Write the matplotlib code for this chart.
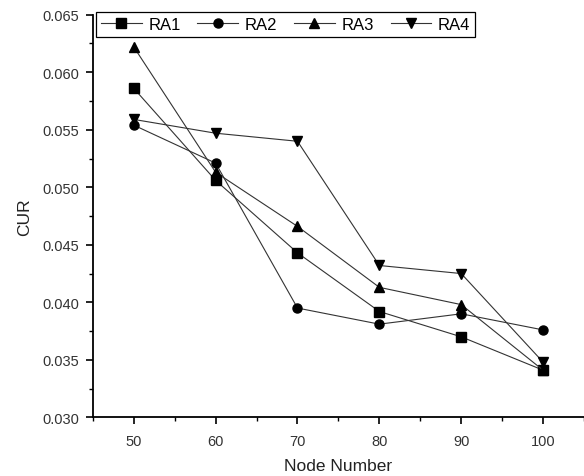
import matplotlib
matplotlib.use('Agg')
import matplotlib.pyplot as plt
from matplotlib.ticker import MultipleLocator, FormatStrFormatter

# data
node_number = [50, 60, 70, 80, 90, 100]
ra1 = [0.0586, 0.0506, 0.0443, 0.0392, 0.0370, 0.0341]
ra2 = [0.0554, 0.0521, 0.0395, 0.0381, 0.0390, 0.0376]
ra3 = [0.0622, 0.0513, 0.0466, 0.0413, 0.0398, 0.0341]
ra4 = [0.0559, 0.0547, 0.0540, 0.0432, 0.0425, 0.0348]
labels = ['RA1', 'RA2', 'RA3', 'RA4']
markers = ['s', 'o', '^', 'v']

plt.rcParams['font.family'] = ['Liberation Sans', 'DejaVu Sans']

fig = plt.figure(figsize=(5.84, 4.77), dpi=100)
ax = fig.add_axes([0.159, 0.123, 0.841, 0.844])

for series, lab, mk in zip([ra1, ra2, ra3, ra4], labels, markers):
    ax.plot(node_number, series, color='#333333', linewidth=0.8,
            marker=mk, markersize=6.5, markerfacecolor='black',
            markeredgecolor='black', label=lab)

ax.set_xlim(45, 105)
ax.set_ylim(0.030, 0.065)
ax.xaxis.set_major_locator(MultipleLocator(10))
ax.xaxis.set_minor_locator(MultipleLocator(5))
ax.yaxis.set_major_locator(MultipleLocator(0.005))
ax.yaxis.set_minor_locator(MultipleLocator(0.0025))
ax.yaxis.set_major_formatter(FormatStrFormatter('%.3f'))

ax.spines['top'].set_visible(False)
ax.spines['right'].set_visible(False)
ax.spines['left'].set_linewidth(1.3)
ax.spines['bottom'].set_linewidth(1.3)
ax.tick_params(which='major', direction='out', length=5, width=1.2,
               labelsize=10.5, colors='black', labelcolor='#333333', pad=5)
ax.tick_params(which='minor', direction='out', length=3, width=1.0)
ax.tick_params(axis='x', which='major', pad=7)

ax.set_xlabel('Node Number', fontsize=12.5, labelpad=7, color='#222222')
ax.set_ylabel('CUR', fontsize=12.5, labelpad=7, color='#222222')

leg = ax.legend(loc='upper left', bbox_to_anchor=(0.006, 1.008), ncol=4,
                fontsize=12, frameon=True, fancybox=False, framealpha=1,
                edgecolor='black', handlelength=2.45, handletextpad=0.4,
                columnspacing=1.0, borderpad=0.3, borderaxespad=0)
leg.get_frame().set_linewidth(0.9)

plt.savefig('out.png', dpi=100)
